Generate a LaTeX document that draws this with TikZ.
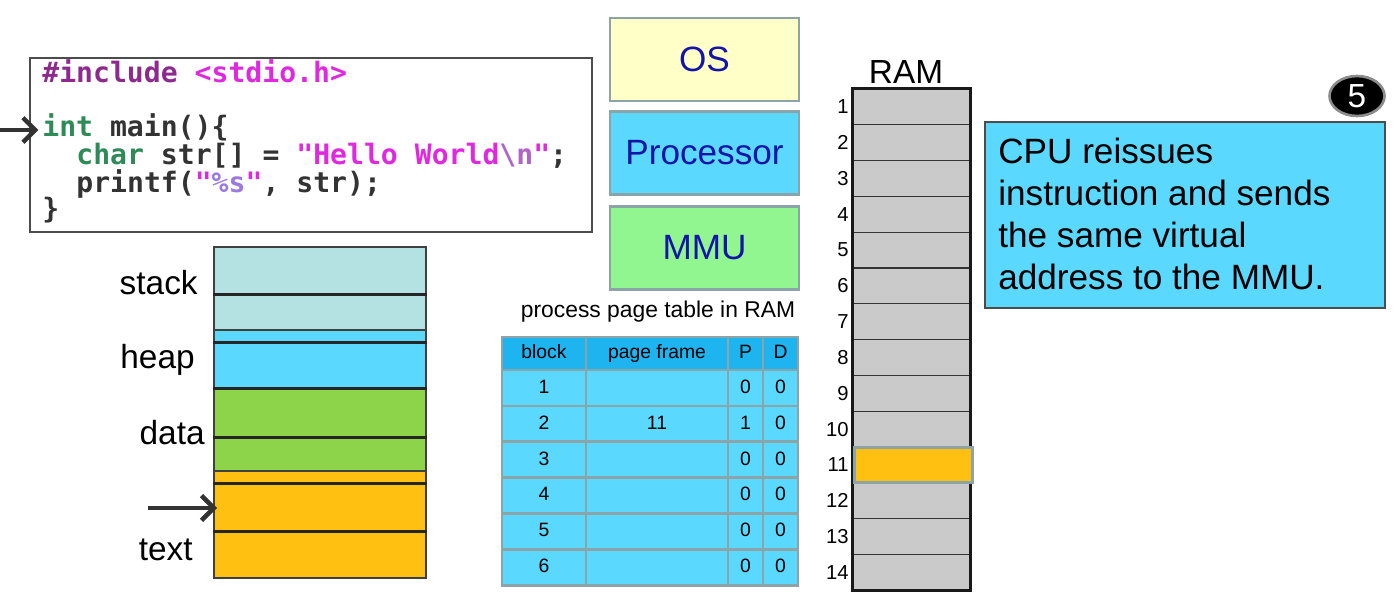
\documentclass[tikz,border=0pt]{standalone}
\usepackage{fontspec}
\setmainfont{Liberation Sans}
\setmonofont{DejaVu Sans Mono}
\usetikzlibrary{shapes.geometric,arrows.meta}

\definecolor{stackc}{HTML}{B4E1E1}
\definecolor{heapc}{HTML}{5BD8FE}
\definecolor{datac}{HTML}{8DD44B}
\definecolor{textc}{HTML}{FFC012}
\definecolor{ramgray}{HTML}{CACACA}
\definecolor{boxline}{HTML}{8CA4A8}
\definecolor{osyellow}{HTML}{FFFFC8}
\definecolor{mmugreen}{HTML}{92F690}
\definecolor{titleblue}{HTML}{1414A8}
\definecolor{hdrblue}{HTML}{1EB4F0}
\definecolor{ptrgray}{HTML}{333333}
\definecolor{kwgreen}{HTML}{2E8B57}
\definecolor{ppurple}{HTML}{8E2A8E}
\definecolor{strmag}{HTML}{E028E0}
\definecolor{escpurple}{HTML}{B064C8}
\definecolor{fmtpurple}{HTML}{9A7AE0}

\begin{document}
\begin{tikzpicture}[x=0.02cm,y=-0.02cm,
    codeline/.style={anchor=base west,inner sep=0pt,font=\ttfamily\bfseries\fontsize{16}{18}\selectfont,text=black!80},
    seg/.style={draw=black!75,line width=0.6pt,minimum width=4.24cm,inner sep=0pt},
    thickline/.style={line width=1.6pt,black!85},
    seglabel/.style={anchor=east,inner sep=0pt,font=\fontsize{19}{21}\selectfont},
    unit/.style={draw=boxline,line width=1.6pt,minimum width=3.78cm,minimum height=1.66cm,text=titleblue,font=\fontsize{20}{22}\selectfont},
    cell/.style={draw=boxline,line width=1.5pt,fill=heapc,inner sep=0pt,minimum height=0.718cm,text height=8pt,text depth=2pt,font=\fontsize{11}{13}\selectfont},
    ramrow/.style={draw=black!80,line width=0.7pt,fill=ramgray,minimum width=2.34cm,minimum height=0.716cm,inner sep=0pt},
    ptr/.style={-{Straight Barb[length=7pt,width=14pt]},line width=2.6pt,ptrgray}]
\useasboundingbox (0,0) rectangle (1398,592);

% 代码框
\node (code) [draw=black!70,line width=0.9pt,minimum width=11.24cm,minimum height=3.48cm] at (311,145) {};
\node (line1) [codeline] at (42,82) {\textcolor{ppurple}{\#include} \textcolor{strmag}{<stdio.h>}};
\node (line2) [codeline] at (42,136) {\textcolor{kwgreen}{int} main()\{};
\node (line3) [codeline] at (76,164) {\textcolor{kwgreen}{char} str[] = \textcolor{strmag}{"Hello World\textcolor{escpurple}{\textbackslash n}"};};
\node (line4) [codeline] at (76,192) {printf(\textcolor{strmag}{"\textcolor{fmtpurple}{\%s}"}, str);};
\node (line5) [codeline] at (42,218) {\}};
\coordinate (codeptr) at (0,130);
\draw[ptr] (codeptr) -- ([xshift=-2pt]codeptr -| line2.west);

% 进程地址空间
\foreach \nm/\c/\h/\col in {stackA/270.5/0.94/stackc, stackB/312/0.72/stackc,
    heapA/336/0.24/heapc, heapB/365/0.92/heapc, dataA/412.5/0.98/datac,
    dataB/454/0.68/datac, textA/477/0.24/textc, textB/507/0.96/textc, textC/554.5/0.94/textc}
  \node (\nm) [seg,fill=\col,minimum height=\h cm] at (320,\c) {};
\foreach \nm in {stackA,heapA,heapB,dataA,textA,textB}
  \draw[thickline] (\nm.south west) -- (\nm.south east);
\node (stacklbl) [seglabel] at (198,283) {stack};
\node (heaplbl) [seglabel] at (195,360) {heap};
\node (datalbl) [seglabel] at (205,433) {data};
\node (textlbl) [seglabel] at (193,550) {text};
\coordinate (segptr) at (148,508);
\draw[ptr] (segptr) -- ([xshift=2pt]segptr -| textB.west);

% OS / Processor / MMU
\node (os) [unit,fill=osyellow] at (704.5,59.5) {OS};
\node (cpu) [unit,fill=heapc] at (704.5,153) {Processor};
\node (mmu) [unit,fill=mmugreen] at (704.5,248) {MMU};

% 页表
\node (ptitle) [font=\fontsize{13}{15}\selectfont] at (658,312) {process page table in RAM};
\foreach \nm/\x/\w/\t in {hb/544/1.68/block, hf/657/2.84/page frame, hp/745.5/0.70/P, hd/780.5/0.70/D}
  \node (\nm) [cell,fill=hdrblue,minimum width=\w cm,minimum height=0.66cm] at (\x,353.5) {\t};
\foreach \r/\f/\p in {1//0,2/11/1,3//0,4//0,5//0,6//0} {
  \pgfmathsetmacro\yy{370+(\r-0.5)*35.9}
  \node (b\r) [cell,minimum width=1.68cm] at (544,\yy) {\r};
  \node (f\r) [cell,minimum width=2.84cm] at (657,\yy) {\f};
  \node (p\r) [cell,minimum width=0.70cm] at (745.5,\yy) {\p};
  \node (d\r) [cell,minimum width=0.70cm] at (780.5,\yy) {0};
}

% RAM
\node (ramlbl) [font=\fontsize{19}{21}\selectfont] at (906,72) {RAM};
\foreach \i in {1,...,14} {
  \pgfmathsetmacro\yy{89+(\i-0.5)*35.8}
  \node (ram\i) [ramrow] at (911.5,\yy) {};
  \node (num\i) [anchor=east,inner sep=0pt,font=\fontsize{11.5}{13}\selectfont] at (849,\yy) {\i};
}
\draw[line width=1.6pt,black!90] (ram1.north west) rectangle (ram14.south east);
\node (frame11) [draw=boxline,line width=1.5pt,fill=textc,minimum width=2.36cm,minimum height=0.70cm,inner sep=0pt] at (913.5,464.9) {};

% 说明
\node (note) [draw=black!70,line width=0.8pt,fill=heapc,minimum width=8cm,minimum height=3.72cm] at (1185,215) {};
\node (notetext) [anchor=north west,align=left,inner sep=0pt,font=\fontsize{20}{23.8}\selectfont] at (998,138)
  {CPU reissues\\instruction and sends\\the same virtual\\address to the MMU.};
\node (badge) [ellipse,fill=black,draw=black!45,line width=1.5pt,minimum width=1.1cm,minimum height=0.8cm,inner sep=0pt,text=white,font=\fontsize{19}{20}\selectfont] at (1357,96) {5};
\end{tikzpicture}
\end{document}
